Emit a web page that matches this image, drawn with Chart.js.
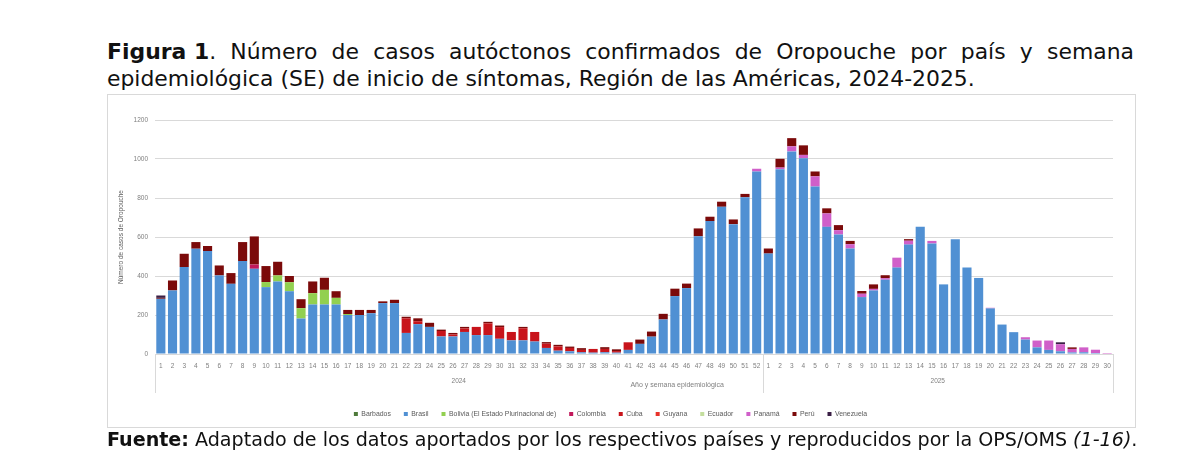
<!DOCTYPE html>
<html>
<head>
<meta charset="utf-8">
<script src="https://cdn.jsdelivr.net/npm/chart.js@4.4.1/dist/chart.umd.min.js"></script>
<style>
  html, body { margin: 0; padding: 0; background: #fff; }
  body { width: 1200px; height: 475px; position: relative; overflow: hidden; font-family: "DejaVu Sans", sans-serif; }
  #title { position: absolute; left: 107px; top: 38px; width: 1027px; font-size: 21.9px; line-height: 27px; color: #111; }
  #title .l1 { white-space: nowrap; display: flex; justify-content: space-between; }
  #box { position: absolute; left: 107px; top: 94px; width: 1027px; height: 332px; border: 1px solid #d9d9d9; }
  #wrap { position: absolute; left: 108px; top: 95px; width: 1027px; height: 336px; }
  #source { position: absolute; left: 107px; top: 428px; font-size: 19.1px; color: #111; white-space: nowrap; background: #fff; }
</style>
</head>
<body>
<div id="title">
  <div class="l1"><span><b>Figura 1</b>.</span><span>Número</span><span>de</span><span>casos</span><span>autóctonos</span><span>confirmados</span><span>de</span><span>Oropouche</span><span>por</span><span>país</span><span>y</span><span>semana</span></div>
  <div>epidemiológica (SE) de inicio de síntomas, Región de las Américas, 2024-2025.</div>
</div>
<div id="box"></div>
<div id="wrap"><canvas id="oropoucheChart"></canvas></div>
<div id="source"><b>Fuente:</b> Adaptado de los datos aportados por los respectivos países y reproducidos por la OPS/OMS <i>(1-16)</i>.</div>
<script>
// semanas epidemiológicas
const weeks2024 = ['1','2','3','4','5','6','7','8','9','10','11','12','13','14','15','16','17','18','19','20','21','22','23','24','25','26','27','28','29','30','31','32','33','34','35','36','37','38','39','40','41','42','43','44','45','46','47','48','49','50','51','52'];
const weeks2025 = ['1','2','3','4','5','6','7','8','9','10','11','12','13','14','15','16','17','18','19','20','21','22','23','24','25','26','27','28','29','30'];
const years = ['2024', '2025'];

// casos por país (2024 SE1-52, luego 2025 SE1-30)
const barbados = [
  0,0,0,0,0,0,0,0,0,0,0,0,0,0,0,0,0,0,0,0,0,0,0,0,0,0,0,0,0,0,0,0,0,0,0,0,0,0,0,0,0,0,0,0,0,0,0,0,0,0,0,0,
  0,0,0,0,0,0,0,0,0,0,0,0,0,0,0,0,0,0,0,0,0,0,0,0,0,0,0,0,0,0
];
const brasil = [
  283,326,446,540,528,403,360,477,437,343,372,322,182,254,254,254,200,200,209,261,261,108,153,139,90,90,113,97,97,78,70,70,64,31,17,14,9,7,9,7,21,52,89,177,297,338,604,682,755,666,804,936,
  515,948,1039,1004,859,652,613,541,292,326,381,443,561,652,567,357,589,443,390,234,151,112,74,34,21,14,8,9,5,0
];
const bolivia = [
  0,0,0,0,0,0,0,0,0,26,31,46,53,58,75,34,5,0,0,0,0,0,0,0,0,0,0,0,0,0,0,0,0,0,0,0,0,0,0,0,0,0,0,0,0,0,0,0,0,0,0,0,
  0,0,0,0,0,0,0,0,0,0,0,0,0,0,0,0,0,0,0,0,0,0,0,0,0,0,0,0,0,0
];
const colombia = [
  0,0,0,0,0,0,0,0,22,0,0,0,0,0,0,0,0,0,0,0,0,0,0,0,0,0,0,0,0,0,0,0,0,0,0,0,0,0,0,0,0,0,0,0,0,0,0,0,0,0,0,0,
  0,0,0,0,0,0,0,0,0,0,0,0,0,0,0,0,0,0,0,0,0,0,0,0,0,0,0,0,0,0
];
const cuba = [
  0,0,0,0,0,0,0,0,0,0,0,0,0,0,0,0,0,0,0,0,0,75,15,0,28,10,18,42,60,60,43,62,49,22,22,17,12,19,17,8,39,0,0,0,0,0,0,0,0,0,0,0,
  0,0,0,0,0,0,0,0,0,0,0,0,0,0,0,0,0,0,0,0,0,0,0,0,0,0,0,0,0,0
];
const guyana = [
  0,0,0,0,0,0,0,0,0,0,0,0,0,0,0,0,0,0,0,0,0,0,0,0,0,0,0,0,0,0,0,0,0,0,0,0,0,0,0,0,0,0,0,0,0,0,0,0,0,0,0,0,
  0,0,0,0,0,0,0,0,0,0,0,0,0,0,0,0,0,0,0,0,0,0,0,0,0,0,0,0,0,0
];
const ecuador = [
  0,0,0,0,0,0,0,0,0,0,0,0,0,0,0,0,0,0,0,0,0,0,0,0,0,0,0,0,0,0,0,0,0,0,0,0,0,0,0,0,0,0,0,0,0,0,0,0,0,0,0,0,
  0,0,0,0,0,0,0,0,0,0,0,0,0,0,0,0,0,0,0,0,0,0,0,0,0,0,0,0,0,0
];
const panama = [
  0,0,0,0,0,0,0,0,0,0,0,0,0,0,0,0,0,0,0,0,0,0,0,0,0,0,0,0,0,0,0,0,0,0,0,0,0,0,0,0,0,0,0,0,0,0,0,0,0,0,0,14,
  0,8,26,17,52,69,22,22,17,8,8,51,20,0,13,0,0,0,0,3,0,0,12,35,48,36,18,25,17,5
];
const peru = [
  5,51,68,34,26,51,55,97,144,82,70,32,46,60,62,34,21,26,17,9,17,8,15,21,7,8,8,0,8,8,0,7,0,8,8,7,9,0,9,9,0,22,26,29,38,23,40,22,26,24,17,0,
  26,45,42,49,25,26,26,17,14,23,15,0,8,0,0,0,0,0,0,0,0,0,0,0,0,0,8,0,0,0
];
const venezuela = [
  12,0,0,0,0,0,0,0,0,0,0,0,0,0,0,0,0,0,0,0,0,0,0,0,0,0,0,0,0,0,0,0,0,0,0,0,0,0,0,0,0,0,0,0,0,0,0,0,0,0,0,0,
  0,0,0,0,0,0,0,0,0,0,0,0,0,0,0,0,0,0,0,0,0,0,0,0,0,10,0,0,0,0
];

const yTicksMax = 1200;
const yTicksStep = 200;

const tickFont = { family: 'Liberation Sans', size: 6.5 };
const tickColor = '#7f7f7f';

// etiquetas de año y título del eje x, dibujados bajo las semanas
const yearGroups = {
  id: 'yearGroups',
  afterDraw(chart) {
    const { ctx, chartArea, scales } = chart;
    const x = scales.x;
    const n2024 = weeks2024.length;
    const bottom = chartArea.bottom;
    const step = x.getPixelForValue(1) - x.getPixelForValue(0);
    const left = chartArea.left;
    const mid = x.getPixelForValue(n2024 - 1) + step / 2;
    const right = chartArea.right;
    ctx.save();
    ctx.strokeStyle = '#d9d9d9';
    ctx.lineWidth = 1;
    [left, mid, right].forEach(px => {
      ctx.beginPath();
      ctx.moveTo(Math.round(px) + 0.5, bottom);
      ctx.lineTo(Math.round(px) + 0.5, bottom + 39);
      ctx.stroke();
    });
    ctx.fillStyle = tickColor;
    ctx.font = '6.5px "Liberation Sans"';
    ctx.textAlign = 'center';
    ctx.textBaseline = 'middle';
    ctx.fillText(years[0], (left + mid) / 2, bottom + 27);
    ctx.fillText(years[1], (mid + right) / 2, bottom + 27);
    ctx.font = '7px "Liberation Sans"';
    ctx.fillText('Año y semana epidemiológica', left + (right - left) * 0.545, bottom + 31);
    ctx.restore();
  }
};

const mk = (label, data, color) => ({ label, data, backgroundColor: color, borderWidth: 0, stack: 'casos' });

new Chart(document.getElementById('oropoucheChart'), {
  type: 'bar',
  data: {
    labels: weeks2024.concat(weeks2025),
    datasets: [
      mk('Barbados', barbados, '#4e7a3a'),
      mk('Brasil', brasil, '#5090d3'),
      mk('Bolivia (El Estado Plurinacional de)', bolivia, '#92d050'),
      mk('Colombia', colombia, '#c2185b'),
      mk('Cuba', cuba, '#c8141b'),
      mk('Guyana', guyana, '#e8322a'),
      mk('Ecuador', ecuador, '#c4de9e'),
      mk('Panamá', panama, '#d05fc9'),
      mk('Perú', peru, '#7b0a0a'),
      mk('Venezuela', venezuela, '#3a1f45')
    ]
  },
  options: {
    responsive: true,
    maintainAspectRatio: false,
    animation: false,
    layout: { padding: { left: 0, right: 22, top: 25, bottom: 3.6 } },
    datasets: { bar: { barPercentage: 1, categoryPercentage: 0.78 } },
    plugins: {
      legend: {
        position: 'bottom',
        labels: {
          boxWidth: 4,
          boxHeight: 4,
          padding: 13,
          color: '#595959',
          font: { family: 'Liberation Sans', size: 6.9 }
        }
      },
      tooltip: { enabled: false },
      title: { display: false }
    },
    scales: {
      x: {
        stacked: true,
        grid: { display: false, drawTicks: false },
        border: { color: '#d9d9d9' },
        ticks: { color: tickColor, font: tickFont, padding: 8, autoSkip: false, maxRotation: 0 },
        afterFit: s => { s.height = 43.5; }
      },
      y: {
        stacked: true,
        min: 0,
        max: yTicksMax,
        ticks: { stepSize: yTicksStep, color: tickColor, font: tickFont, padding: 7, callback: v => String(v) },
        grid: { color: '#d9d9d9', drawTicks: false },
        border: { display: false },
        title: { display: true, text: 'Número de casos de Oropouche', color: '#595959', font: { family: 'Liberation Sans', size: 6.5 }, padding: { top: 9, bottom: 0 } },
        afterFit: s => { s.width = 47; }
      }
    }
  },
  plugins: [yearGroups]
});
</script>
</body>
</html>
